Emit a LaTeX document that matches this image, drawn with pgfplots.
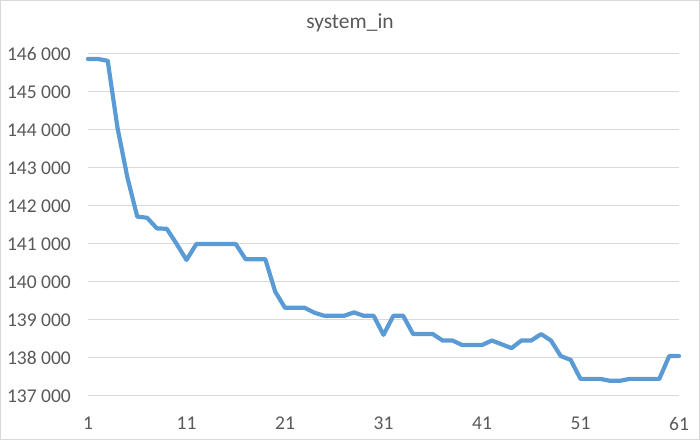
\documentclass[border=0pt]{standalone}
\usepackage{fontspec}
\setmainfont{Carlito}
\usepackage{pgfplots}
\pgfplotsset{compat=1.18}
\definecolor{exblue}{HTML}{5B9BD5}
\definecolor{extext}{HTML}{595959}
\definecolor{exgrid}{HTML}{D9D9D9}
\begin{document}
\begin{tikzpicture}[x=1bp,y=1bp]
\draw[exgrid, line width=1bp] (0.5,0.5) rectangle (699.5,439.5);
\node[anchor=base, text=extext, inner sep=0pt, font=\fontsize{21.5bp}{25bp}\selectfont] at (350,411) {system\_in};
\begin{axis}[
  at={(88bp,44bp)}, anchor=south west,
  scale only axis, width=591bp, height=342bp,
  xmin=1, xmax=61, ymin=137000, ymax=146000,
  scaled y ticks=false, scaled x ticks=false,
  axis line style={draw=none},
  major tick length=0pt,
  xtick={1,11,21,31,41,51,61},
  xticklabels={1,11,21,31,41,51,61},
  ytick={137000,138000,139000,140000,141000,142000,143000,144000,145000,146000},
  yticklabels={137 000,138 000,139 000,140 000,141 000,142 000,143 000,144 000,145 000,146 000},
  ymajorgrids, xmajorgrids=false,
  grid style={exgrid, line width=1bp},
  tick label style={text=extext, font=\fontsize{19.5bp}{23bp}\selectfont, inner sep=0pt},
  yticklabel style={anchor=east, xshift=-17bp},
  xticklabel style={anchor=north, yshift=-21bp},
  clip=false,
]
\addplot[exblue, line width=4.2bp, line join=round, line cap=round] coordinates {
(1,145870)(2,145870)(3,145820)(4,144050)(5,142750)(6,141720)(7,141690)(8,141410)(9,141400)(10,141000)
(11,140580)(12,141000)(13,141000)(14,141000)(15,141000)(16,141000)(17,140600)(18,140600)(19,140600)(20,139750)
(21,139320)(22,139320)(23,139320)(24,139190)(25,139110)(26,139110)(27,139110)(28,139200)(29,139110)(30,139110)
(31,138610)(32,139110)(33,139110)(34,138630)(35,138630)(36,138630)(37,138460)(38,138460)(39,138340)(40,138340)
(41,138340)(42,138460)(43,138360)(44,138260)(45,138460)(46,138460)(47,138630)(48,138460)(49,138050)(50,137950)
(51,137450)(52,137450)(53,137450)(54,137400)(55,137400)(56,137450)(57,137450)(58,137450)(59,137450)(60,138050)
(61,138050)
};
\end{axis}
\end{tikzpicture}
\end{document}
